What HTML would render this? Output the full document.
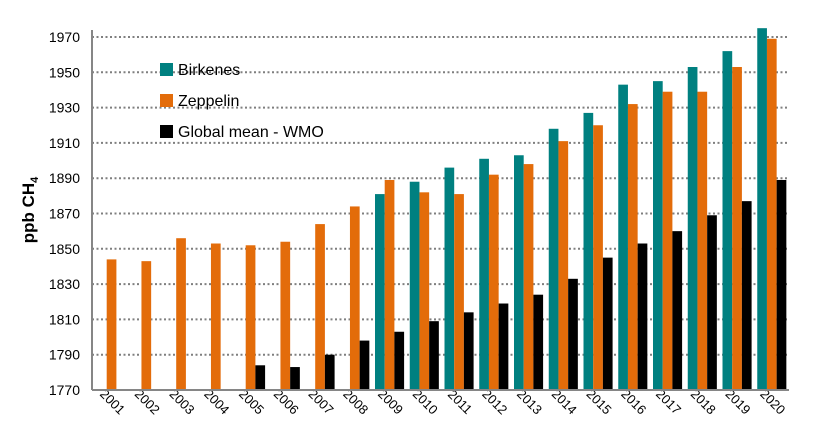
<!DOCTYPE html>
<html><head><meta charset="utf-8"><style>
body{margin:0;background:#fff;font-family:"Liberation Sans",sans-serif}
</style></head><body>
<svg id="chart" width="813" height="435" xmlns="http://www.w3.org/2000/svg" font-family="Liberation Sans, sans-serif">
<g id="grid"></g>
<g id="bars"></g>
<g id="axes"></g>
<text transform="translate(34,210) rotate(-90)" text-anchor="middle" font-size="17" font-weight="bold" fill="#000">ppb CH<tspan font-size="11" dy="4">4</tspan></text>
<g>
<g><rect x="160" y="63" width="13" height="13" fill="#008080"/><text x="178" y="75" font-size="16" fill="#000">Birkenes</text></g>
<g><rect x="160" y="94" width="13" height="13" fill="#E36C0A"/><text x="178" y="106" font-size="16" fill="#000">Zeppelin</text></g>
<g><rect x="160" y="125" width="13" height="13" fill="#000"/><text x="178" y="137" font-size="16" fill="#000">Global mean - WMO</text></g>
</g>
</svg>
<script>
const years=[2001,2002,2003,2004,2005,2006,2007,2008,2009,2010,2011,2012,2013,2014,2015,2016,2017,2018,2019,2020];
const birkenes=[null,null,null,null,null,null,null,null,1881,1888,1896,1901,1903,1918,1927,1943,1945,1953,1962,1975];
const zeppelin=[1844,1843,1856,1853,1852,1854,1864,1874,1889,1882,1881,1892,1898,1911,1920,1932,1939,1939,1953,1969];
const wmo=[null,null,null,null,1784,1783,1790,1798,1803,1809,1814,1819,1824,1833,1845,1853,1860,1869,1877,1889];
const yTicks=[1770,1790,1810,1830,1850,1870,1890,1910,1930,1950,1970];
const NS='http://www.w3.org/2000/svg';
const x0=92,x1=787,yBase=390,yMin=1770,pxPer=1.765;
const gw=(x1-x0)/years.length;
function y(v){return yBase-(v-yMin)*pxPer;}
function mk(t,a,p){const e=document.createElementNS(NS,t);for(const k in a)e.setAttribute(k,a[k]);p.appendChild(e);return e;}
const grid=document.getElementById('grid'),bars=document.getElementById('bars'),axes=document.getElementById('axes');
yTicks.forEach(t=>{
  if(t>yMin){const l=mk('line',{x1:x0,x2:x1,y1:y(t),y2:y(t),stroke:'#7f7f7f','stroke-width':2,'stroke-dasharray':'2,2.5'},grid);
  
  }
  const tx=mk('text',{x:80,y:y(t)+5,'text-anchor':'end','font-size':14,fill:'#000'},axes);
  tx.textContent=t;
  
  
});
const series=[[birkenes,'#008080','birkenes'],[zeppelin,'#E36C0A','zeppelin'],[wmo,'#000','wmo']];
const bw=9.7,off=5;
years.forEach((yr,i)=>{
  const gx=x0+i*gw;
  series.forEach((s,j)=>{
    const v=s[0][i];if(v==null)return;
    const r=mk('rect',{x:gx+off+j*bw,y:y(v),width:bw,height:yBase-y(v),fill:s[1]},bars);
    
    
  });
  const cx=gx+gw/2,ty=405;
  const tx=mk('text',{x:cx,y:ty,'text-anchor':'middle','font-size':13,fill:'#000',transform:'rotate(45 '+cx+' '+ty+')'},axes);
  tx.textContent=yr;
  
  
});
const ax=mk('line',{x1:x0,x2:x0,y1:30,y2:yBase,stroke:'#868686','stroke-width':2},axes);


const bx=mk('line',{x1:x0,x2:x1+2,y1:yBase,y2:yBase,stroke:'#868686','stroke-width':2},axes);


</script>
</body></html>
